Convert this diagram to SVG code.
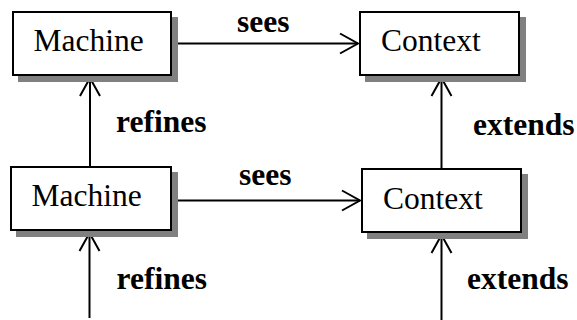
<svg xmlns="http://www.w3.org/2000/svg" width="577" height="320" viewBox="0 0 577 320">
<defs>
<style>
.shadow{fill:#808080;stroke:#808080;stroke-width:2}
.box{fill:#fff;stroke:#000;stroke-width:2}
.name{font-family:"Liberation Serif","Times New Roman",serif;font-size:31.5px;fill:#000}
.lbl{font-family:"Liberation Serif","Times New Roman",serif;font-size:31.5px;font-weight:bold;fill:#000}
.edge{stroke:#000;stroke-width:2;fill:none;marker-end:url(#open)}
</style>
<marker id="open" markerUnits="userSpaceOnUse" viewBox="-20 -12 22 24" refX="0" refY="0" markerWidth="22" markerHeight="24" orient="auto">
<path d="M-18,-10 L0,0 L-18,10" fill="none" stroke="#000" stroke-width="2"/>
</marker>
</defs>
<rect width="577" height="320" fill="#fff"/>
<g id="connectors">
<line class="edge" x1="172" y1="43.5" x2="358" y2="43.5"/>
<line class="edge" x1="172" y1="200.5" x2="360" y2="200.5"/>
<line class="edge" x1="90" y1="166" x2="90" y2="78"/>
<line class="edge" x1="441.5" y1="168" x2="441.5" y2="78"/>
<line class="edge" x1="89.5" y1="318" x2="89.5" y2="233"/>
<line class="edge" x1="441.5" y1="320" x2="441.5" y2="235"/>
<text class="lbl" x="237" y="31.5">sees</text>
<text class="lbl" x="239" y="185">sees</text>
<text class="lbl" x="116" y="132">refines</text>
<text class="lbl" x="116.5" y="288.5">refines</text>
<text class="lbl" x="473" y="135">extends</text>
<text class="lbl" x="467" y="288.5">extends</text>
</g>
<g id="machine-top">
<rect class="shadow" x="19" y="18" width="158" height="63"/>
<rect class="box" x="13" y="12" width="158" height="63"/>
<text class="name" x="33.5" y="51">Machine</text>
</g>
<g id="context-top">
<rect class="shadow" x="366" y="18" width="159" height="63"/>
<rect class="box" x="360" y="12" width="159" height="63"/>
<text class="name" x="381" y="51">Context</text>
</g>
<g id="machine-bottom">
<rect class="shadow" x="17" y="173" width="160" height="63"/>
<rect class="box" x="11" y="167" width="160" height="63"/>
<text class="name" x="31.5" y="206">Machine</text>
</g>
<g id="context-bottom">
<rect class="shadow" x="368" y="175" width="159" height="63"/>
<rect class="box" x="362" y="169" width="159" height="63"/>
<text class="name" x="383" y="208.5">Context</text>
</g>
</svg>
